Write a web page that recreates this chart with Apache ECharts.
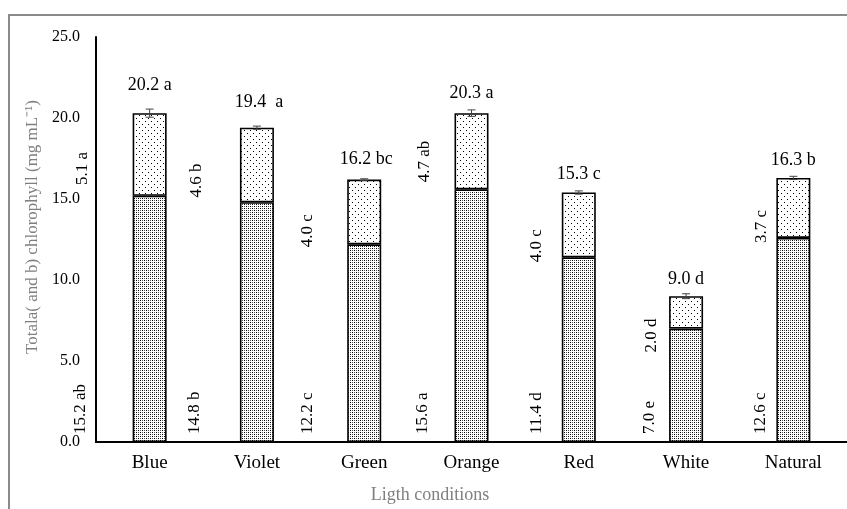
<!DOCTYPE html>
<html><head><meta charset="utf-8">
<script src="https://cdn.jsdelivr.net/npm/echarts@6/dist/echarts.min.js"></script>
<style>
html,body{margin:0;padding:0;background:#fff}
#c{width:847px;height:509px}
#f{position:absolute;left:8px;top:14px;width:839px;height:495px;border-left:2px solid #8a8a8a;border-top:2px solid #8a8a8a;pointer-events:none;box-sizing:border-box}
</style>
</head><body><div id="c"></div><div id="f"></div>
<script>
// ---- data ----
const categories = ['Blue', 'Violet', 'Green', 'Orange', 'Red', 'White', 'Natural'];
const chlA = [15.2, 14.8, 12.2, 15.6, 11.4, 7.0, 12.6];
const chlB = [5.1, 4.6, 4.0, 4.7, 4.0, 2.0, 3.7];
const totalErr = [0.25, 0.1, 0.05, 0.2, 0.1, 0.15, 0.1];
const totalLabels = ['20.2 a', '19.4  a', '16.2 bc', '20.3 a', '15.3 c', '9.0 d', '16.3 b'];
const aLabels = ['15.2 ab', '14.8 b', '12.2 c', '15.6 a', '11.4 d', '7.0 e', '12.6 c'];
const bLabels = ['5.1 a', '4.6 b', '4.0 c', '4.7 ab', '4.0 c', '2.0 d', '3.7 c'];
const yMin = 0, yMax = 25, yInterval = 5;

// ---- label layout (pixel offsets, not data) ----
const aLabelDx = [-69, -62, -56.5, -49, -42.5, -37, -32.5];
const bLabelDx = [-67.5, -60, -56.5, -47, -42.5, -35, -31.5];
const bLabelDy = [-10.7, -4.7, 3, -7, 5, 24, 5];
const totalDx = [0, 2, 2, 0, 0, 0, 0];
const totalDy = [28, 25, 20, 20, 18, 17, 18];

const FONT = '"Liberation Serif", "Times New Roman", serif';

function pattern(size, dots) {
  const c = document.createElement('canvas');
  c.width = c.height = size;
  const g = c.getContext('2d');
  g.fillStyle = '#fff'; g.fillRect(0, 0, size, size);
  dots.forEach(([x, y, col]) => { g.fillStyle = col; g.fillRect(x, y, 1, 1); });
  return c;
}
const densePat = pattern(4, [[0, 0, '#000'], [2, 2, '#000'], [0, 2, '#555'], [2, 0, '#555']]);
const sparsePat = pattern(6, [[1, 1, '#000'], [4, 4, '#000']]);

const totals = chlA.map((a, i) => +(a + chlB[i]).toFixed(2));

const chart = echarts.init(document.getElementById('c'), null, { renderer: 'canvas', devicePixelRatio: 1 });
chart.setOption({
  animation: false,
  backgroundColor: '#fff',
  grid: { left: 96, right: 0, top: 37, bottom: 67, containLabel: false },
  xAxis: {
    type: 'category',
    data: categories,
    name: 'Ligth conditions',
    nameLocation: 'middle',
    nameGap: 44,
    nameTextStyle: { fontFamily: FONT, fontSize: 18, color: '#7f7f7f', padding: [0, 83, 0, 0] },
    axisLine: { lineStyle: { color: '#000', width: 2 } },
    axisTick: { show: false },
    axisLabel: { fontFamily: FONT, fontSize: 19, color: '#000', margin: 12 }
  },
  yAxis: {
    type: 'value',
    min: yMin, max: yMax, interval: yInterval,
    name: 'Totala( and b) chlorophyll (mg mL\u207B\u00B9)',
    nameLocation: 'middle',
    nameRotate: 90,
    nameGap: 50,
    nameTextStyle: { fontFamily: FONT, fontSize: 17, color: '#7f7f7f', padding: [0, 0, 0, 25] },
    axisLine: { show: true, lineStyle: { color: '#000', width: 2 } },
    axisTick: { show: false },
    splitLine: { show: false },
    axisLabel: { fontFamily: FONT, fontSize: 16, color: '#000', margin: 16, formatter: v => v.toFixed(1) }
  },
  series: [
    {
      name: 'Chl a', type: 'bar', stack: 'tot', data: chlA, barWidth: 34,
      itemStyle: { color: { image: densePat, repeat: 'repeat' }, borderColor: '#000', borderWidth: 1.6 }
    },
    {
      name: 'Chl b', type: 'bar', stack: 'tot', data: chlB, barWidth: 34,
      itemStyle: { color: { image: sparsePat, repeat: 'repeat' }, borderColor: '#000', borderWidth: 1.6 }
    },
    {
      name: 'err', type: 'custom', z: 5,
      data: categories.map((c, i) => [i, totals[i], totalErr[i]]),
      encode: { x: 0, y: 1 },
      renderItem(params, api) {
        const i = api.value(0), t = api.value(1), e = api.value(2);
        const top = api.coord([i, t + e]), bot = api.coord([i, t - e]);
        const x = top[0], w = 4;
        const st = { stroke: '#444', lineWidth: 1 };
        return { type: 'group', children: [
          { type: 'line', shape: { x1: x, y1: top[1], x2: x, y2: bot[1] }, style: st },
          { type: 'line', shape: { x1: x - w, y1: top[1], x2: x + w, y2: top[1] }, style: st },
          { type: 'line', shape: { x1: x - w, y1: bot[1], x2: x + w, y2: bot[1] }, style: st }
        ] };
      }
    },
    {
      name: 'labels', type: 'custom', z: 6,
      data: categories.map((c, i) => [i, totals[i]]),
      encode: { x: 0, y: 1 },
      renderItem(params, api) {
        const i = params.dataIndex;
        const base = api.coord([i, 0]);
        const mid = api.coord([i, chlA[i]]);
        const top = api.coord([i, totals[i]]);
        const txt = (text, x, y, rot, align, size) => ({
          type: 'text', x, y, rotation: rot,
          style: { text, fill: '#000', fontFamily: FONT, fontSize: size, align, verticalAlign: 'middle' }
        });
        return { type: 'group', children: [
          txt(aLabels[i], base[0] + aLabelDx[i], base[1] - 8, Math.PI / 2, 'left', 17),
          txt(bLabels[i], mid[0] + bLabelDx[i], mid[1] + bLabelDy[i], Math.PI / 2, 'left', 17),
          txt(totalLabels[i], top[0] + totalDx[i], top[1] - totalDy[i], 0, 'center', 18)
        ] };
      }
    }
  ]
});
</script>
</body></html>
